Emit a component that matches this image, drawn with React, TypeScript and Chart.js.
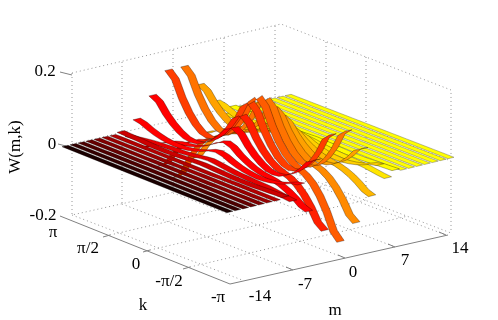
import React, { useEffect, useRef } from "react";
import { Chart, registerables } from "chart.js";

Chart.register(...registerables);

const PI = Math.PI;
const kGrid = [12, 11, 10, 9, 8, 7, 6, 5, 4, 3, 2, 1, 0, -1, -2, -3, -4, -5, -6, -7, -8, -9, -10, -11, -12].map((n) => (n * PI) / 12);
const mValues = [-14, -13, -12, -11, -10, -9, -8, -7, -6, -5, -4, -3, -2, -1, 0, 1, 2, 3, 4, 5, 6, 7, 8, 9, 10, 11, 12, 13, 14];

const w0 = [-0.159, -0.138, -0.091, -0.054, -0.027, -0.01, 0, 0.01, 0.027, 0.054, 0.091, 0.138, 0.159, 0.138, 0.091, 0.054, 0.027, 0.01, 0, -0.01, -0.027, -0.054, -0.091, -0.138, -0.159];
const w1 = [0.148, 0.129, 0.084, 0.05, 0.025, 0.009, 0.004, 0.009, 0.025, 0.05, 0.084, 0.129, 0.148, 0.129, 0.084, 0.05, 0.025, 0.009, 0.004, 0.009, 0.025, 0.05, 0.084, 0.129, 0.148];
const w2 = [-0.117, -0.102, -0.067, -0.04, -0.02, -0.007, 0, 0.007, 0.02, 0.04, 0.067, 0.102, 0.117, 0.102, 0.067, 0.04, 0.02, 0.007, 0, -0.007, -0.02, -0.04, -0.067, -0.102, -0.117];
const w3 = [0.087, 0.076, 0.05, 0.03, 0.015, 0.005, 0.002, 0.005, 0.015, 0.03, 0.05, 0.076, 0.087, 0.076, 0.05, 0.03, 0.015, 0.005, 0.002, 0.005, 0.015, 0.03, 0.05, 0.076, 0.087];
const w4 = [-0.052, -0.045, -0.03, -0.018, -0.009, -0.003, 0, 0.003, 0.009, 0.018, 0.03, 0.045, 0.052, 0.045, 0.03, 0.018, 0.009, 0.003, 0, -0.003, -0.009, -0.018, -0.03, -0.045, -0.052];
const w5 = [0.03, 0.026, 0.017, 0.01, 0.005, 0.002, 0.001, 0.002, 0.005, 0.01, 0.017, 0.026, 0.03, 0.026, 0.017, 0.01, 0.005, 0.002, 0.001, 0.002, 0.005, 0.01, 0.017, 0.026, 0.03];
const w6 = [-0.012, -0.01, -0.007, -0.004, -0.002, -0.001, 0, 0.001, 0.002, 0.004, 0.007, 0.01, 0.012, 0.01, 0.007, 0.004, 0.002, 0.001, 0, -0.001, -0.002, -0.004, -0.007, -0.01, -0.012];
const w7 = [0.005, 0.004, 0.003, 0.002, 0.001, 0, 0, 0, 0.001, 0.002, 0.003, 0.004, 0.005, 0.004, 0.003, 0.002, 0.001, 0, 0, 0, 0.001, 0.002, 0.003, 0.004, 0.005];
const wFlat = [0, 0, 0, 0, 0, 0, 0, 0, 0, 0, 0, 0, 0, 0, 0, 0, 0, 0, 0, 0, 0, 0, 0, 0, 0];
const rowsByAbsM = [w0, w1, w2, w3, w4, w5, w6, w7];

const zTicks = ["0.2", "0", "-0.2"];
const kTicks = ["π", "π/2", "0", "-π/2", "-π"];
const mTicks = ["-14", "-7", "0", "7", "14"];

const FONT = '"Liberation Serif", "Times New Roman", serif';
const LABEL_SIZE = 17;

// ---- projection of the 3D surface onto the flat chart scales
function project(m: number, k: number, w: number) {
  const u = (m + 14) / 28;
  const t = (PI - k) / (2 * PI);
  const sx = 65 + 223 * u;
  const sy = 146 - 51 * u;
  const ex = 230 + 221 * u;
  const ey = 212 - 54 * u;
  return { x: sx + (ex - sx) * t, y: sy + (ey - sy) * t - w * 355 };
}

function ribbonColor(m: number) {
  const r = Math.min(1, (m + 15) / 10);
  const g = m >= 0 ? Math.min(1, 0.36 + 0.09 * m) : Math.max(0, 0.36 + 0.12 * m);
  return `rgb(${Math.round(r * 255)},${Math.round(g * 255)},0)`;
}

function ribbonDataset(m: number) {
  const row = rowsByAbsM[Math.abs(m)] ?? wFlat;
  const half = Math.abs(m) <= 7 ? 0.47 : 0.38;
  const a = row.map((w, i) => project(m - half, kGrid[i], w));
  const b = row.map((w, i) => project(m + half, kGrid[i], w)).reverse();
  const bright = m > 7;
  return {
    label: `m=${m}`,
    data: [...a, ...b, a[0]],
    showLine: true,
    fill: "shape",
    tension: 0,
    backgroundColor: ribbonColor(m),
    borderColor: bright ? "rgba(90,90,90,0.7)" : "rgba(0,0,0,0.5)",
    borderWidth: 0.6,
    pointRadius: 0,
  };
}

// ---- axis frame, drawn with the same flat scales
const P = (x: number, y: number) => ({ x, y });

const dottedFrame = [
  [P(72, 73), P(281, 24), P(451, 90), P(451, 233)],
  [P(72, 73), P(72, 215), P(281, 168), P(451, 233)],
  [P(72, 144), P(275, 97), P(281, 96), P(451, 161)],
  // verticals on the back walls
  [P(122, 62), P(122, 204)],
  [P(173, 50), P(173, 193)],
  [P(224, 38), P(224, 181)],
  [P(275, 26), P(275, 170)],
  [P(326, 42), P(326, 185)],
  [P(366, 57), P(366, 200)],
  // floor, along k
  [P(122, 204), P(293, 270)],
  [P(173, 193), P(345, 258)],
  [P(224, 181), P(395, 247)],
  [P(275, 170), P(446, 235)],
  [P(72, 215), P(242, 280)],
  // floor, along m
  [P(110, 235), P(326, 185)],
  [P(150, 250), P(366, 200)],
  [P(190, 267), P(408, 216)],
];

const solidFrame = [
  [P(60, 216), P(230, 284)],
  [P(230, 284), P(448, 235)],
  [P(60, 72), P(72, 75)],
  [P(58, 144), P(66, 146)],
  [P(103, 237), P(110, 235)],
  [P(143, 252), P(150, 250)],
  [P(183, 269), P(190, 267)],
  [P(293, 270), P(286, 267)],
  [P(345, 258), P(338, 255)],
  [P(395, 247), P(388, 244)],
  [P(446, 235), P(439, 232)],
];

function lineDataset(points: { x: number; y: number }[], dotted: boolean) {
  return {
    label: "frame",
    data: points,
    showLine: true,
    fill: false,
    borderColor: dotted ? "#8a8a8a" : "#808080",
    borderWidth: dotted ? 0.9 : 1,
    borderDash: dotted ? [1, 3] : [],
    pointRadius: 0,
    tension: 0,
  };
}

const labels: [string, number, number][] = [
  [zTicks[0], 45, 72],
  [zTicks[1], 52, 145],
  [zTicks[2], 43, 216],
  [kTicks[0], 53, 233],
  [kTicks[1], 88, 249],
  [kTicks[2], 136, 265],
  [kTicks[3], 169, 282],
  [kTicks[4], 218, 298],
  [mTicks[0], 260, 297],
  [mTicks[1], 305, 285],
  [mTicks[2], 353, 273],
  [mTicks[3], 405, 261],
  [mTicks[4], 460, 249],
  ["k", 143, 306],
  ["m", 335, 311],
];

const textPlugin = {
  id: "axisText",
  afterDraw(chart: any) {
    const { ctx, scales } = chart;
    ctx.save();
    ctx.fillStyle = "#000";
    ctx.font = `${LABEL_SIZE}px ${FONT}`;
    ctx.textAlign = "center";
    ctx.textBaseline = "middle";
    for (const [t, x, y] of labels) {
      ctx.fillText(t, scales.x.getPixelForValue(x), scales.y.getPixelForValue(y));
    }
    ctx.translate(scales.x.getPixelForValue(16), scales.y.getPixelForValue(147));
    ctx.rotate(-Math.PI / 2);
    ctx.fillText("W(m,k)", 0, 0);
    ctx.restore();
  },
};

export default function App() {
  const ref = useRef<HTMLCanvasElement | null>(null);
  useEffect(() => {
    if (!ref.current) return;
    const datasets: any[] = [
      ...mValues.map(ribbonDataset),
      ...solidFrame.map((p) => lineDataset(p, false)),
      ...dottedFrame.map((p) => lineDataset(p, true)),
    ];
    const chart = new Chart(ref.current, {
      type: "scatter",
      data: { datasets },
      options: {
        animation: false,
        responsive: false,
        events: [],
        layout: { padding: 0 },
        plugins: { legend: { display: false }, tooltip: { enabled: false } },
        scales: {
          x: { type: "linear", display: false, min: 0, max: 498 },
          y: { type: "linear", display: false, min: 0, max: 320, reverse: true },
        },
      },
      plugins: [textPlugin],
    } as any);
    return () => chart.destroy();
  }, []);
  return (
    <div style={{ position: "fixed", left: 0, top: 0, width: 498, height: 320, background: "#fff" }}>
      <canvas ref={ref} width={498} height={320} style={{ display: "block" }} />
    </div>
  );
}
